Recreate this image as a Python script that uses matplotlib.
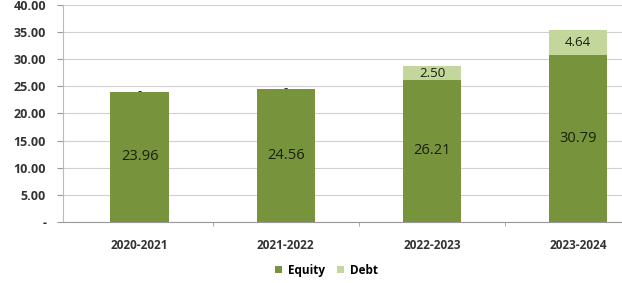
import numpy as np
import matplotlib.pyplot as plt

years = ["2020-2021", "2021-2022", "2022-2023", "2023-2024"]
equity = [23.96, 24.56, 26.21, 30.79]
debt = [0.00, 0.00, 2.50, 4.64]
yticks = [0, 5, 10, 15, 20, 25, 30, 35, 40]

plt.rcParams['font.family'] = ['Open Sans', 'DejaVu Sans']

fig = plt.figure(figsize=(6.22, 2.83), dpi=100)
ax = fig.add_axes([0.101, 0.216, 0.899, 0.766])

x = np.arange(len(years))
b1 = ax.bar(x, equity, width=0.4, color="#77933C", label="Equity", zorder=3)
b2 = ax.bar(x, debt, width=0.4, bottom=equity, color="#C3D69B", label="Debt", zorder=3)

def fmt(v):
    return "-" if v == 0 else "%.2f" % v

ax.bar_label(b1, labels=[fmt(v) for v in equity], label_type="center",
             fontsize=10.5, color="#17200c")
ax.bar_label(b2, labels=[fmt(v) for v in debt], label_type="center",
             fontsize=9.5, color="#17200c")

ax.set_ylim(0, 40)
ax.set_yticks(yticks)
ax.set_yticklabels(["-" if t == 0 else "%.2f" % t for t in yticks],
                   fontsize=9, fontweight="bold", color="#333333")
ax.set_xlim(-0.525, 3.3)
ax.set_xticks(x)
ax.set_xticklabels(years, fontsize=8.5, fontweight="bold", color="#333333")
ax.set_xticks([0.5, 1.5, 2.5], minor=True)
ax.tick_params(axis="x", which="major", length=0, pad=12)
ax.tick_params(axis="x", which="minor", length=3, color="#999999")
ax.tick_params(axis="y", length=4, color="#999999", pad=8)

ax.grid(axis="y", color="#d0d0d0", linewidth=0.8, zorder=0)
for s in ["top", "right"]:
    ax.spines[s].set_visible(False)
ax.spines["left"].set_color("#bbbbbb")
ax.spines["bottom"].set_color("#999999")

fig.legend(handles=[b1, b2], loc="center", bbox_to_anchor=(0.525, 0.045), ncol=2,
           frameon=False, prop={"size": 8.5, "weight": "bold"},
           handlelength=0.6, handleheight=0.6, columnspacing=1.0, handletextpad=0.5)

fig.savefig("out.png", dpi=100)
